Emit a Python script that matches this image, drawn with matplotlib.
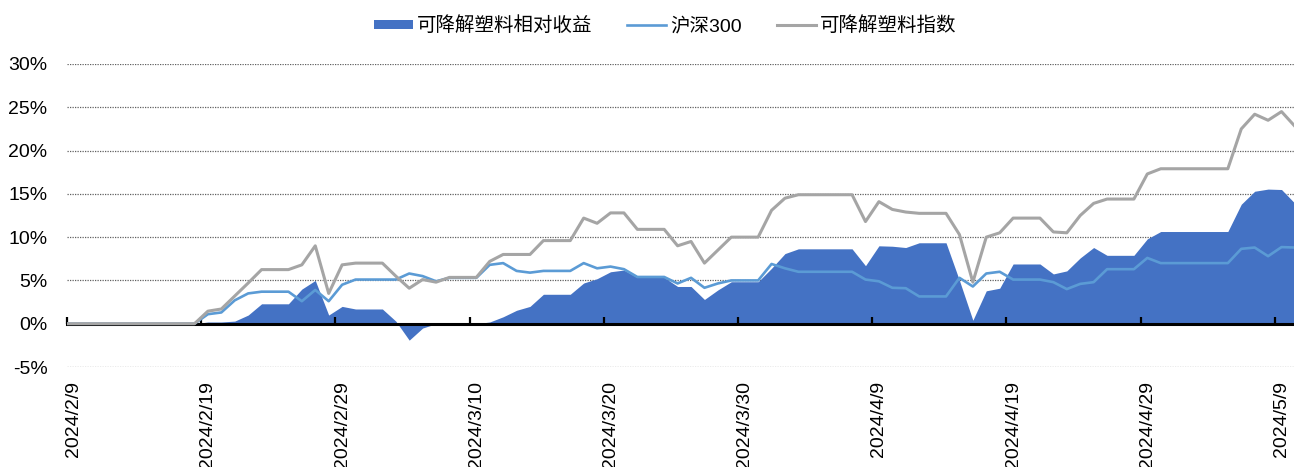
import matplotlib
matplotlib.use('Agg')
import matplotlib.pyplot as plt
import matplotlib.ticker as mticker
import pandas as pd

plt.rcParams['font.family'] = ['Liberation Sans', 'Noto Sans CJK SC']

# calendar days, holidays / weekends carry the previous value
dates = pd.date_range('2024-02-08', '2024-05-10', freq='D')

index_ret = [0, 0, 0, 0, 0, 0, 0, 0, 0, 0, 0,
             1.45, 1.7, 3.2, 4.7, 6.25, 6.25, 6.25,
             6.8, 9.0, 3.5, 6.8, 7.0, 7.0, 7.0,
             5.5, 4.1, 5.1, 4.8, 5.35, 5.35, 5.35,
             7.2, 8.0, 8.0, 8.0, 9.6, 9.6, 9.6,
             12.2, 11.6, 12.8, 12.8, 10.9, 10.9, 10.9,
             9.0, 9.5, 7.0, 8.5, 10.0, 10.0, 10.0,
             13.1, 14.5, 14.9, 14.9, 14.9, 14.9, 14.9,
             11.8, 14.1, 13.2, 12.9, 12.75, 12.75, 12.75,
             10.3, 4.8, 10.0, 10.5, 12.2, 12.2, 12.2,
             10.6, 10.5, 12.5, 13.9, 14.4, 14.4, 14.4,
             17.3, 17.9, 17.9, 17.9, 17.9, 17.9, 17.9,
             22.5, 24.2, 23.5, 24.5, 22.8]

hs300_ret = [0, 0, 0, 0, 0, 0, 0, 0, 0, 0, 0,
             1.1, 1.3, 2.7, 3.5, 3.7, 3.7, 3.7,
             2.6, 3.9, 2.6, 4.5, 5.1, 5.1, 5.1,
             5.1, 5.8, 5.5, 4.9, 5.3, 5.3, 5.3,
             6.8, 7.0, 6.1, 5.9, 6.1, 6.1, 6.1,
             7.0, 6.4, 6.6, 6.3, 5.4, 5.4, 5.4,
             4.65, 5.3, 4.15, 4.65, 5.0, 5.0, 5.0,
             6.9, 6.4, 6.0, 6.0, 6.0, 6.0, 6.0,
             5.1, 4.9, 4.15, 4.1, 3.15, 3.15, 3.15,
             5.3, 4.3, 5.8, 6.0, 5.1, 5.1, 5.1,
             4.8, 4.0, 4.6, 4.8, 6.3, 6.3, 6.3,
             7.6, 7.0, 7.0, 7.0, 7.0, 7.0, 7.0,
             8.65, 8.8, 7.8, 8.85, 8.8]

excess_ret = [0, 0, 0, 0, 0, 0, 0, 0, 0, 0, 0,
              0.2, 0.2, 0.3, 1.0, 2.3, 2.3, 2.3,
              4.0, 5.0, 1.0, 2.0, 1.7, 1.7, 1.7,
              0.3, -1.9, -0.5, 0.0, 0.0, 0.0, 0.0,
              0.2, 0.8, 1.55, 2.0, 3.4, 3.4, 3.4,
              4.7, 5.2, 6.0, 6.2, 5.35, 5.35, 5.35,
              4.3, 4.3, 2.8, 3.9, 4.85, 4.85, 4.85,
              6.4, 8.1, 8.65, 8.65, 8.65, 8.65, 8.65,
              6.7, 9.0, 8.95, 8.8, 9.35, 9.35, 9.35,
              5.0, 0.4, 3.8, 4.1, 6.9, 6.9, 6.9,
              5.75, 6.1, 7.6, 8.8, 7.9, 7.9, 7.9,
              9.8, 10.65, 10.65, 10.65, 10.65, 10.65, 10.65,
              13.8, 15.3, 15.55, 15.5, 13.9]

tick_dates = pd.date_range('2024-02-09', periods=10, freq='10D')
tick_labels = [f'{d.year}/{d.month}/{d.day}' for d in tick_dates]
y_ticks = [-5, 0, 5, 10, 15, 20, 25, 30]

# each day sits in the middle of its slot
half_day = pd.Timedelta(hours=12)
x = dates + half_day

fig = plt.figure(figsize=(12.94, 4.67), dpi=100)
ax = fig.add_axes([67 / 1294, 100 / 467, 1227 / 1294, 303 / 467])

# dotted gridlines under the area, ticks stay on top of it
for yv in y_ticks:
    ax.axhline(yv, color='#606060', linestyle=(0, (1, 1)), lw=0.9, zorder=0.2)

area = ax.fill_between(x, excess_ret, 0, color='#4472C4', lw=0, zorder=1,
                       label='可降解塑料相对收益')
l1, = ax.plot(x, hs300_ret, color='#5B9BD5', lw=1.9, zorder=3, label='沪深300')
l2, = ax.plot(x, index_ret, color='#A5A5A5', lw=2.2, zorder=4, label='可降解塑料指数')

ax.set_xlim(pd.Timestamp('2024-02-09'), pd.Timestamp('2024-02-09') + pd.Timedelta(days=91.43))
ax.set_ylim(-5, 30)

ax.set_yticks(y_ticks)
ax.yaxis.set_major_formatter(mticker.FuncFormatter(lambda v, p: f'{int(v)}%'))
ax.tick_params(axis='y', length=0, pad=14, labelsize=14)

ax.xaxis.remove_overlapping_locs = False
ax.set_xticks(tick_dates + half_day)
ax.set_xticks(tick_dates, minor=True)
ax.set_xticklabels(tick_labels)
ax.tick_params(axis='x', which='major', length=0, pad=41, labelsize=14, labelrotation=90)
ax.tick_params(axis='x', which='minor', direction='in', length=5, width=1.6, color='black')

for s in ['top', 'right', 'left']:
    ax.spines[s].set_visible(False)
ax.spines['bottom'].set_position(('data', 0))
ax.spines['bottom'].set_linewidth(2.2)
ax.spines['bottom'].set_color('black')
ax.spines['bottom'].set_zorder(2.5)

fig.legend(handles=[area, l1, l2], loc='center', bbox_to_anchor=(0.514, 0.945),
           ncol=3, frameon=False, fontsize=14, handlelength=2.0, handleheight=0.35,
           handletextpad=0.2, columnspacing=1.8)

fig.savefig('out.png', dpi=100)
